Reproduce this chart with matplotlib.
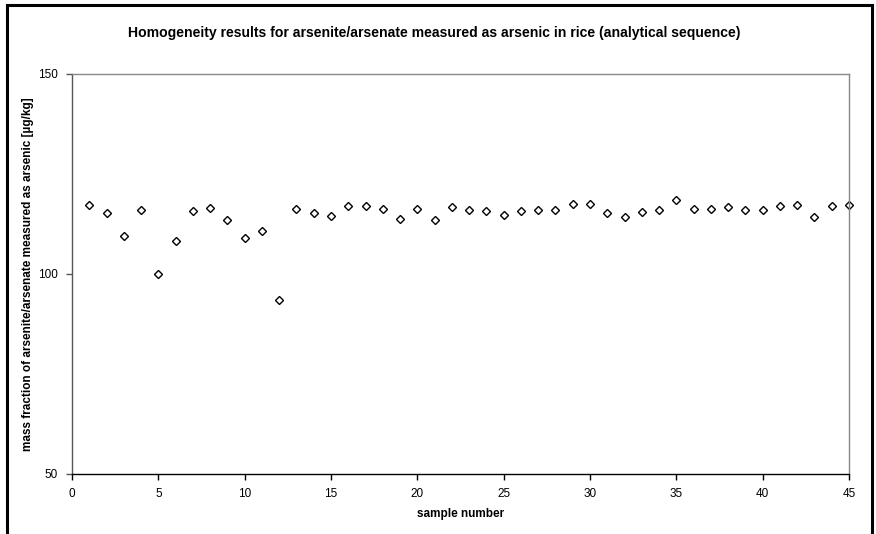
import matplotlib
matplotlib.use("Agg")
from matplotlib import pyplot as plt
from matplotlib.lines import Line2D

plt.rcParams['font.family'] = ['Liberation Sans', 'DejaVu Sans']

# sample numbers and measured values (µg/kg)
sample = list(range(1, 46))
mass = [117.2, 115.2, 109.6, 116.1, 100.0, 108.2, 115.7, 116.6, 113.4, 109.0,
        110.8, 93.6, 116.2, 115.2, 114.5, 116.9, 117.1, 116.2, 113.7, 116.3,
        113.4, 116.8, 116.1, 115.75, 114.7, 115.75, 115.9, 115.9, 117.4, 117.5,
        115.3, 114.25, 115.5, 115.9, 118.4, 116.2, 116.2, 116.8, 116.1, 116.1,
        116.9, 117.25, 114.25, 116.9, 117.2]

xticks = [0, 5, 10, 15, 20, 25, 30, 35, 40, 45]
yticks = [50, 100, 150]

W, H = 876, 534
fig = plt.figure(figsize=(8.76, 5.34), dpi=100)
ax = fig.add_axes([72/W, 1-474/H, (849-72)/W, (474-74)/H])

ax.plot(sample, mass, linestyle='none', marker='D', markersize=3.6,
        markerfacecolor='white', markeredgecolor='black', markeredgewidth=1.0,
        clip_on=False)

ax.set_xlim(0, 45)
ax.set_ylim(50, 150)
ax.set_xticks(xticks)
ax.set_yticks(yticks)
ax.tick_params(direction='out', length=4, width=1, labelsize=8.5, pad=6)

ax.spines['bottom'].set_color('black')
ax.spines['left'].set_color('#555555')
ax.spines['top'].set_color('#888888')
ax.spines['right'].set_color('#888888')
for s in ax.spines.values():
    s.set_linewidth(1)
ax.tick_params(axis='y', colors='#555555', labelcolor='black')

fig.text(434/W, 1-33/H,
         'Homogeneity results for arsenite/arsenate measured as arsenic in rice (analytical sequence)',
         fontsize=10.1, fontweight='bold', ha='center', va='center')
ax.set_xlabel('sample number', fontsize=8.5, fontweight='bold', labelpad=6)
ax.set_ylabel('mass fraction of arsenite/arsenate measured as arsenic [µg/kg]',
              fontsize=8.5, fontweight='bold', labelpad=3)

# outer frame (bottom edge cut off)
frame = dict(color='black', linewidth=2.2, transform=fig.transFigure)
fig.add_artist(Line2D([7/W, 7/W], [0, 1-5/H], **frame))
fig.add_artist(Line2D([7/W, 872/W], [1-5/H, 1-5/H], **frame))
fig.add_artist(Line2D([872/W, 872/W], [0, 1-5/H], **frame))

fig.savefig('out.png', dpi=100)
